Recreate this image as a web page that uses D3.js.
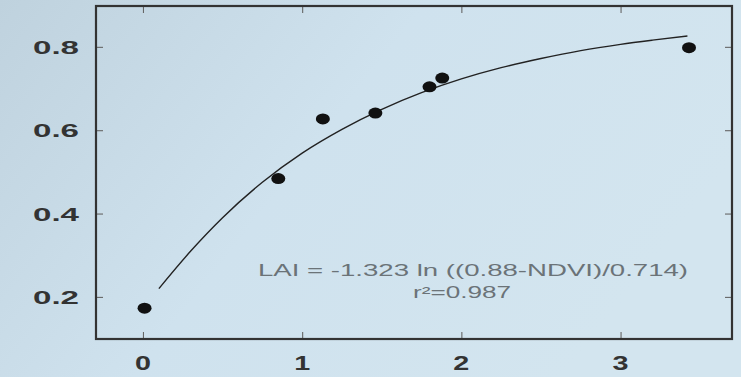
<!DOCTYPE html>
<html>
<head>
<meta charset="utf-8">
<script src="https://cdn.jsdelivr.net/npm/d3@7"></script>
<style>
  html, body { margin: 0; padding: 0; }
  body { width: 741px; height: 377px; overflow: hidden; }
</style>
</head>
<body>
<svg id="chart" width="741" height="377"></svg>
<script>
// measured points (LAI, NDVI)
let laiValues = [0.01, 0.85, 1.13, 1.46, 1.80, 1.88, 3.43];
let ndviValues = [0.173, 0.484, 0.627, 0.641, 0.704, 0.725, 0.798];

// fitted curve
let curveLai = [0.1, 0.3, 0.5, 0.75, 1.0, 1.25, 1.5, 1.75, 2.0, 2.25, 2.5, 2.75, 3.0, 3.2, 3.42];
let curveNdvi = [0.22, 0.31, 0.39, 0.475, 0.545, 0.602, 0.65, 0.69, 0.723, 0.75, 0.772, 0.791, 0.806, 0.816, 0.826];

let xTicks = [0, 1, 2, 3];
let yTicks = [0.2, 0.4, 0.6, 0.8];

let equationLines = ["LAI = -1.323 ln ((0.88-NDVI)/0.714)", "r\u00b2=0.987"];

let svg = d3.select("#chart");
let plotLeft = 96, plotRight = 732, plotTop = 6, plotBottom = 339;

// photo-like background
let defs = svg.append("defs");
let grad = defs.append("linearGradient")
    .attr("id", "bg")
    .attr("x1", "0").attr("y1", "0")
    .attr("x2", "1").attr("y2", "0.4");
grad.append("stop").attr("offset", "0").attr("stop-color", "#bfd2de");
grad.append("stop").attr("offset", "0.5").attr("stop-color", "#cfe2ee");
grad.append("stop").attr("offset", "1").attr("stop-color", "#d3e5ef");
svg.append("rect")
    .attr("width", 741).attr("height", 377)
    .attr("fill", "url(#bg)");

let x = d3.scaleLinear().domain([-0.295, 3.70]).range([plotLeft, plotRight]);
let y = d3.scaleLinear().domain([0.099, 0.898]).range([plotBottom, plotTop]);

// inward ticks on all four sides
svg.append("g")
    .attr("transform", `translate(0,${plotBottom})`)
    .call(d3.axisTop(x).tickValues(xTicks).tickSize(7).tickFormat(""))
    .call(g => g.select(".domain").remove());
svg.append("g")
    .attr("transform", `translate(0,${plotTop})`)
    .call(d3.axisBottom(x).tickValues(xTicks).tickSize(7).tickFormat(""))
    .call(g => g.select(".domain").remove());
svg.append("g")
    .attr("transform", `translate(${plotLeft},0)`)
    .call(d3.axisRight(y).tickValues(yTicks).tickSize(7).tickFormat(""))
    .call(g => g.select(".domain").remove());
svg.append("g")
    .attr("transform", `translate(${plotRight},0)`)
    .call(d3.axisLeft(y).tickValues(yTicks).tickSize(7).tickFormat(""))
    .call(g => g.select(".domain").remove());
svg.selectAll(".tick line").attr("stroke", "#666").attr("stroke-width", 1.1);

// tick labels (the print face is wide, so glyphs are stretched)
svg.append("g")
    .selectAll("text")
    .data(xTicks)
    .enter().append("text")
    .attr("x", d => x(d) - 8)
    .attr("y", 370)
    .attr("textLength", 16)
    .attr("lengthAdjust", "spacingAndGlyphs")
    .attr("font-family", "Liberation Sans, Arial, sans-serif")
    .attr("font-weight", "bold")
    .attr("font-size", 21)
    .attr("fill", "#333")
    .text(d => d);

svg.append("g")
    .selectAll("text")
    .data(yTicks)
    .enter().append("text")
    .attr("x", 33)
    .attr("y", d => y(d) + 7)
    .attr("textLength", 46)
    .attr("lengthAdjust", "spacingAndGlyphs")
    .attr("font-family", "Liberation Sans, Arial, sans-serif")
    .attr("font-weight", "bold")
    .attr("font-size", 19)
    .attr("fill", "#333")
    .text(d => d.toFixed(1));

// frame
svg.append("rect")
    .attr("x", plotLeft).attr("y", plotTop)
    .attr("width", plotRight - plotLeft).attr("height", plotBottom - plotTop)
    .attr("fill", "none")
    .attr("stroke", "#333")
    .attr("stroke-width", 2.2);

// fitted curve
let curve = curveLai.map((d, i) => [d, curveNdvi[i]]);
svg.append("path")
    .datum(curve)
    .attr("fill", "none")
    .attr("stroke", "#222")
    .attr("stroke-width", 1.4)
    .attr("d", d3.line().x(d => x(d[0])).y(d => y(d[1])).curve(d3.curveMonotoneX));

// points
svg.append("g")
    .selectAll("ellipse")
    .data(laiValues)
    .enter().append("ellipse")
    .attr("cx", d => x(d))
    .attr("cy", (d, i) => y(ndviValues[i]))
    .attr("rx", 7)
    .attr("ry", 5.5)
    .attr("fill", "#111");

// equation
let eqStarts = [258, 413];
let eqLengths = [430, 98];
svg.append("g")
    .selectAll("text")
    .data(equationLines)
    .enter().append("text")
    .attr("x", (d, i) => eqStarts[i])
    .attr("y", (d, i) => 276 + i * 22)
    .attr("textLength", (d, i) => eqLengths[i])
    .attr("lengthAdjust", "spacingAndGlyphs")
    .attr("font-family", "Liberation Sans, Arial, sans-serif")
    .attr("font-size", 16)
    .attr("fill", "#6b7378")
    .text(d => d);
</script>
</body>
</html>
